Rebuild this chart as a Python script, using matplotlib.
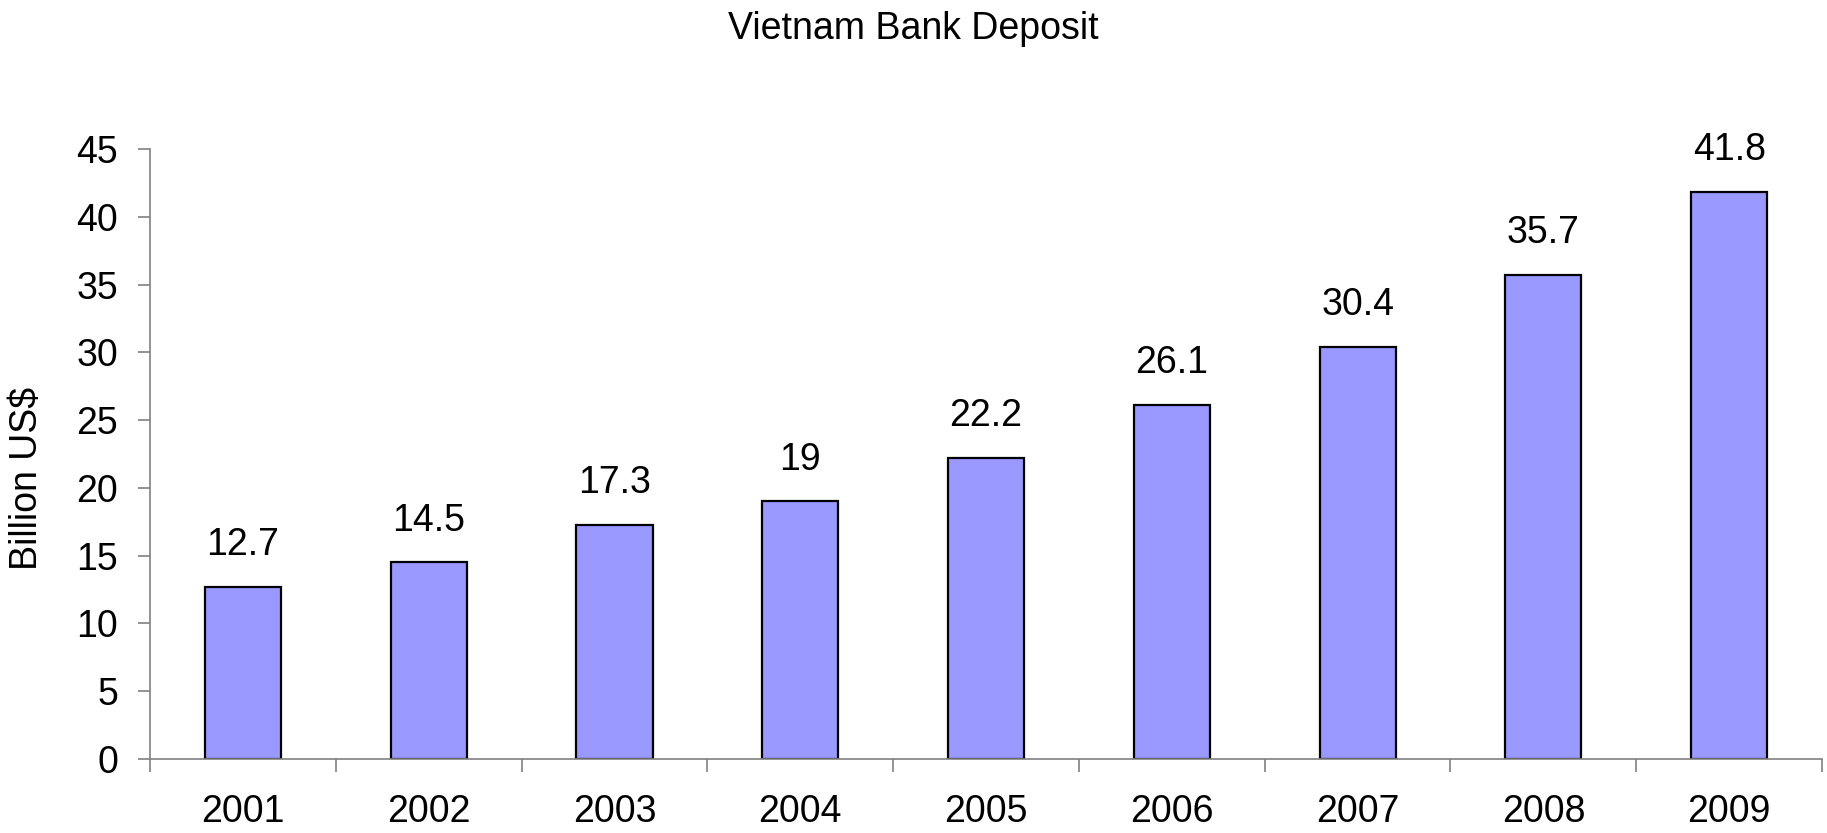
import numpy as np
import matplotlib.pyplot as plt
from matplotlib.ticker import FixedLocator

# Данные
years = ['2001', '2002', '2003', '2004', '2005', '2006', '2007', '2008', '2009']
deposits = [12.7, 14.5, 17.3, 19, 22.2, 26.1, 30.4, 35.7, 41.8]
labels = ['12.7', '14.5', '17.3', '19', '22.2', '26.1', '30.4', '35.7', '41.8']

plt.rcParams['font.family'] = ['Liberation Sans', 'DejaVu Sans']
fs = 27

fig = plt.figure(figsize=(18.27, 8.33), dpi=100)
ax = fig.add_axes([0.0821, 0.0888, 0.9152, 0.7323])

x = np.arange(len(years))
bars = ax.bar(x, deposits, width=0.41, color='#9999FF', edgecolor='black', linewidth=1.6)

# подписи значений над столбцами
for b, lab in zip(bars, labels):
    ax.annotate(lab, (b.get_x() + b.get_width() / 2, b.get_height()),
                xytext=(0, 23), textcoords='offset points',
                ha='center', va='baseline', fontsize=fs)

ax.set_xlim(-0.5, len(years) - 0.5)
ax.set_ylim(0, 45)
ax.set_yticks(np.arange(0, 46, 5))
ax.set_xticks(x)
ax.set_xticklabels(years)
ax.xaxis.set_minor_locator(FixedLocator(np.arange(-0.5, len(years), 1)))

ax.tick_params(axis='x', which='major', length=0, pad=25, labelsize=fs)
ax.tick_params(axis='x', which='minor', length=9, width=1.2, color='#808080', direction='out')
ax.tick_params(axis='y', length=9, width=1.2, color='#808080', direction='out', pad=14, labelsize=fs)

for s in ['top', 'right']:
    ax.spines[s].set_visible(False)
for s in ['left', 'bottom']:
    ax.spines[s].set_color('#808080')
    ax.spines[s].set_linewidth(1.2)

ax.set_ylabel('Billion US$', fontsize=fs)
ax.yaxis.set_label_coords(-0.0628, 0.46)
fig.text(0.5, 1 - 39 / 833, 'Vietnam Bank Deposit', fontsize=fs, ha='center', va='baseline')

plt.savefig('out.png', dpi=100)
